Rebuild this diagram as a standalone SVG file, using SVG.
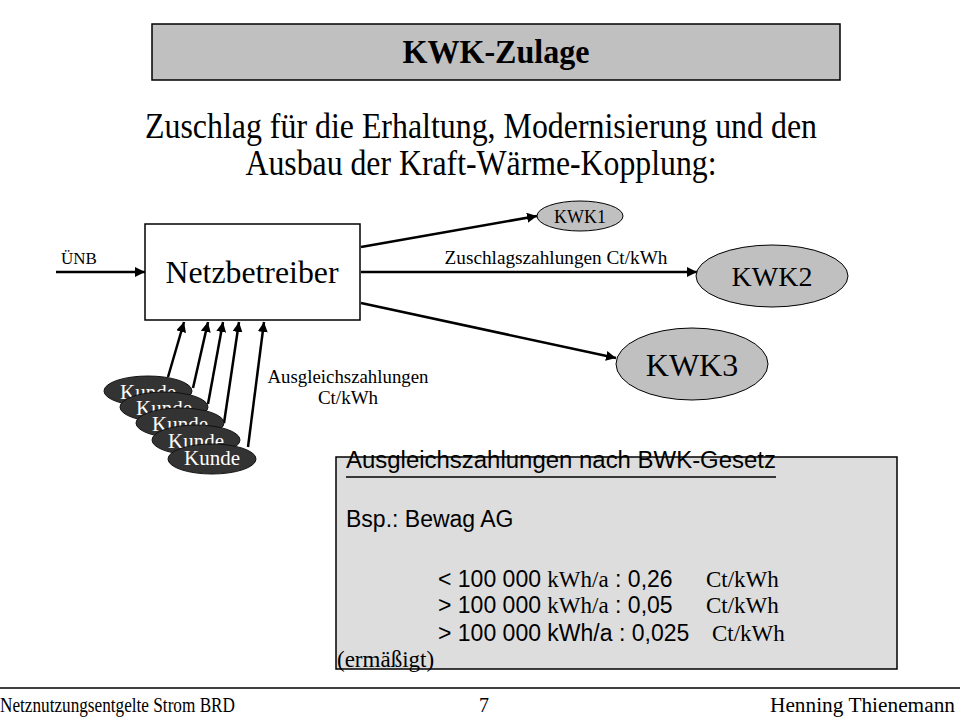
<svg xmlns="http://www.w3.org/2000/svg" width="960" height="720" viewBox="0 0 960 720">
<defs>
<marker id="ah" viewBox="0 0 10 10" refX="10" refY="5" markerWidth="4" markerHeight="4" orient="auto" markerUnits="strokeWidth">
<path d="M0,0 L10,5 L0,10 z" fill="#000"/>
</marker>
<style>
.t{font-family:"Liberation Serif","Times New Roman",serif;fill:#000}
.a{font-family:"Liberation Sans",Arial,sans-serif;fill:#000}
.ln{stroke:#000;stroke-width:2.5;fill:none;marker-end:url(#ah)}
.kwk{fill:#c0c0c0;stroke:#000;stroke-width:1}
.kd{fill:#333;stroke:#111;stroke-width:1}
.kt{font-family:"Liberation Serif","Times New Roman",serif;fill:#fff;font-size:21px}
</style>
</defs>
<rect width="960" height="720" fill="#fff"/>

<g id="title">
<rect x="152" y="24" width="688" height="56" fill="#c0c0c0" stroke="#000" stroke-width="1.5"/>
<text class="t" x="496" y="63" font-size="33" font-weight="bold" text-anchor="middle" textLength="187" lengthAdjust="spacingAndGlyphs">KWK-Zulage</text>
</g>

<g id="subtitle">
<text class="t" x="481" y="138" font-size="36" text-anchor="middle" textLength="672" lengthAdjust="spacingAndGlyphs">Zuschlag für die Erhaltung, Modernisierung und den</text>
<text class="t" x="481" y="175" font-size="36" text-anchor="middle" textLength="471" lengthAdjust="spacingAndGlyphs">Ausbau der Kraft-Wärme-Kopplung:</text>
</g>

<g id="connectors">
<line class="ln" x1="56" y1="272" x2="145" y2="272"/>
<line class="ln" x1="361" y1="247" x2="537" y2="216"/>
<line class="ln" x1="361" y1="272" x2="697" y2="272"/>
<line class="ln" x1="361" y1="303" x2="616" y2="358"/>
<line class="ln" x1="168" y1="377" x2="184" y2="322"/>
<line class="ln" x1="193" y1="388" x2="208" y2="322"/>
<line class="ln" x1="208" y1="404" x2="223" y2="322"/>
<line class="ln" x1="224" y1="423" x2="239" y2="322"/>
<line class="ln" x1="248" y1="447" x2="264" y2="322"/>
</g>

<g id="labels">
<text class="t" x="61" y="264" font-size="17">ÜNB</text>
<text class="t" x="556" y="264" font-size="18" text-anchor="middle" textLength="223" lengthAdjust="spacingAndGlyphs">Zuschlagszahlungen  Ct/kWh</text>
<text class="t" x="348" y="383" font-size="19" text-anchor="middle" textLength="161" lengthAdjust="spacingAndGlyphs">Ausgleichszahlungen</text>
<text class="t" x="348" y="404" font-size="19" text-anchor="middle">Ct/kWh</text>
</g>

<g id="netzbetreiber">
<rect x="145" y="224" width="215" height="96" fill="#fff" stroke="#000" stroke-width="1.5"/>
<text class="t" x="252" y="283" font-size="32" text-anchor="middle" textLength="173" lengthAdjust="spacingAndGlyphs">Netzbetreiber</text>
</g>

<g id="kwk1">
<ellipse class="kwk" cx="580" cy="216" rx="43" ry="15"/>
<text class="t" x="580" y="223" font-size="18" text-anchor="middle">KWK1</text>
</g>
<g id="kwk2">
<ellipse class="kwk" cx="772" cy="276" rx="76" ry="31"/>
<text class="t" x="772" y="286" font-size="28" text-anchor="middle">KWK2</text>
</g>
<g id="kwk3">
<ellipse class="kwk" cx="692" cy="364" rx="76" ry="36"/>
<text class="t" x="692" y="376" font-size="32" text-anchor="middle">KWK3</text>
</g>

<g id="kunde1">
<ellipse class="kd" cx="148" cy="391" rx="44" ry="15"/>
<text class="kt" x="148" y="399" text-anchor="middle">Kunde</text>
</g>
<g id="kunde2">
<ellipse class="kd" cx="164" cy="407" rx="44" ry="15"/>
<text class="kt" x="164" y="415" text-anchor="middle">Kunde</text>
</g>
<g id="kunde3">
<ellipse class="kd" cx="180" cy="423" rx="44" ry="15"/>
<text class="kt" x="180" y="431" text-anchor="middle">Kunde</text>
</g>
<g id="kunde4">
<ellipse class="kd" cx="196" cy="440" rx="44" ry="15"/>
<text class="kt" x="196" y="448" text-anchor="middle">Kunde</text>
</g>
<g id="kunde5">
<ellipse class="kd" cx="212" cy="459" rx="44" ry="15"/>
<text class="kt" x="212" y="465" text-anchor="middle">Kunde</text>
</g>

<g id="infobox">
<rect x="336" y="457" width="561" height="212" fill="#dddddd" stroke="#000" stroke-width="1.5"/>
<text class="a" x="346" y="468" font-size="23" textLength="430" lengthAdjust="spacingAndGlyphs">Ausgleichszahlungen  nach  BWK-Gesetz</text>
<line x1="346" y1="477" x2="776" y2="477" stroke="#000" stroke-width="1.5"/>
<text class="a" x="346" y="527" font-size="23">Bsp.: Bewag AG</text>
<text x="438" y="587" font-size="23"><tspan class="a">&lt; 100 000 </tspan><tspan class="t">kWh/a</tspan><tspan class="a"> : 0,26</tspan><tspan class="t" x="706">Ct/kWh</tspan></text>
<text x="438" y="613" font-size="23"><tspan class="a">&gt; 100 000 </tspan><tspan class="t">kWh/a</tspan><tspan class="a"> : 0,05</tspan><tspan class="t" x="706">Ct/kWh</tspan></text>
<text x="438" y="641" font-size="23"><tspan class="a">&gt; 100 000 kWh/a : 0,025</tspan><tspan class="t" x="712">Ct/kWh</tspan></text>
<text class="t" x="337" y="667" font-size="23">(ermäßigt)</text>
</g>

<g id="footer">
<line x1="0" y1="688" x2="960" y2="688" stroke="#000" stroke-width="1.5"/>
<text class="t" x="0" y="712" font-size="20" textLength="235" lengthAdjust="spacingAndGlyphs">Netznutzungsentgelte Strom BRD</text>
<text class="t" x="484" y="712" font-size="20" text-anchor="middle">7</text>
<text class="t" x="955" y="712" font-size="20" text-anchor="end" textLength="185" lengthAdjust="spacingAndGlyphs">Henning Thienemann</text>
</g>
</svg>
